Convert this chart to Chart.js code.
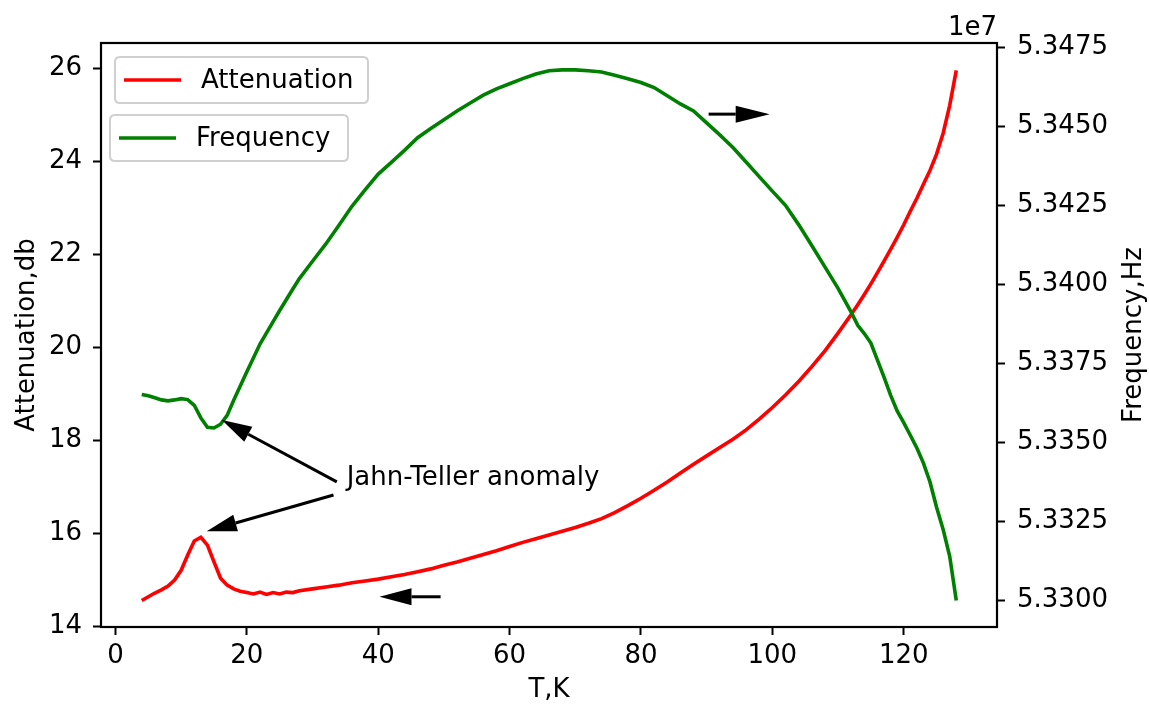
<!doctype html>
<html lang="en">
<head>
<meta charset="utf-8">
<title>Attenuation and frequency vs T</title>
<style>
  html, body { margin: 0; padding: 0; background: #fff; }
  canvas { display: block; }
</style>
</head>
<body>
<canvas id="myChart" width="1149" height="706"></canvas>
<script src="https://cdn.jsdelivr.net/npm/chart.js@4.4.1/dist/chart.umd.min.js"></script>
<script>
// temperature points, K
var temps = [4,5,6,7,8,9,10,11,12,13,14,15,16,17,18,19,20,21,22,23,24,25,26,27,28,30,32,34,36,38,40,42,44,46,48,50,52,54,56,58,60,62,64,66,68,70,72,74,76,78,80,82,84,86,88,90,92,94,96,98,100,102,104,106,108,110,112,113,114,115,116,117,118,119,120,121,122,123,124,125,126,127,128];

// attenuation, db (left axis)
var attenuation = [14.55,14.63,14.71,14.78,14.86,14.99,15.20,15.53,15.83,15.91,15.74,15.38,15.03,14.88,14.80,14.75,14.72,14.69,14.73,14.68,14.72,14.69,14.73,14.72,14.76,14.80,14.84,14.88,14.93,14.97,15.01,15.06,15.11,15.17,15.23,15.31,15.38,15.46,15.54,15.62,15.71,15.80,15.88,15.96,16.04,16.12,16.21,16.31,16.44,16.59,16.75,16.92,17.10,17.29,17.48,17.66,17.84,18.02,18.22,18.45,18.70,18.97,19.26,19.58,19.92,20.30,20.70,20.91,21.13,21.36,21.60,21.85,22.10,22.36,22.63,22.92,23.20,23.50,23.80,24.15,24.60,25.20,25.95];

// frequency, Hz (right axis)
var frequency = [53365200,53364800,53364200,53363500,53363200,53363500,53363900,53363600,53361800,53357800,53354800,53354600,53355800,53358600,53363400,53367900,53372400,53376800,53381200,53384700,53388300,53391800,53395200,53398600,53401900,53407400,53412800,53418700,53424800,53430000,53435000,53438700,53442500,53446500,53449400,53452200,53455000,53457500,53460000,53462000,53463600,53465200,53466700,53467700,53468000,53468000,53467700,53467300,53466300,53465200,53464000,53462400,53459800,53457200,53455000,53451200,53447400,53443400,53438800,53434200,53429600,53425100,53419000,53412400,53405600,53398800,53391300,53387100,53384500,53381500,53376100,53370700,53365000,53360000,53356300,53352300,53348300,53343500,53337500,53329500,53322500,53314000,53300000];

var xTicks = [0,20,40,60,80,100,120];
var leftTicks = [14,16,18,20,22,24,26];
var rightTicks = [53300000,53325000,53350000,53375000,53400000,53425000,53450000,53475000];

// annotations in (T, attenuation) coordinates
var jtText = {text: 'Jahn-Teller anomaly', at: [35.2, 17.03]};
var arrows = [
  {from: [33.7, 17.10], to: [16.2, 18.43], head: 30},
  {from: [33.2, 16.82], to: [13.9, 16.04], head: 30},
  {from: [90.3, 25.01], to: [99.6, 25.01], head: 34},
  {from: [49.5, 14.63], to: [40.2, 14.63], head: 32}
];

var FONT = 'DejaVu Sans';
var tickFont = {family: FONT, size: 26};

function pts(ys) {
  return temps.map(function (t, i) { return {x: t, y: ys[i]}; });
}

function drawArrow(ctx, x0, y0, x1, y1, headLen) {
  var dx = x1 - x0, dy = y1 - y0;
  var len = Math.sqrt(dx * dx + dy * dy);
  var ux = dx / len, uy = dy / len;
  var bx = x1 - ux * headLen, by = y1 - uy * headLen;
  var hw = 8.5;
  ctx.beginPath();
  ctx.moveTo(x0, y0);
  ctx.lineTo(bx, by);
  ctx.lineWidth = 3;
  ctx.strokeStyle = '#000';
  ctx.stroke();
  ctx.beginPath();
  ctx.moveTo(x1, y1);
  ctx.lineTo(bx - uy * hw, by + ux * hw);
  ctx.lineTo(bx + uy * hw, by - ux * hw);
  ctx.closePath();
  ctx.fillStyle = '#000';
  ctx.fill();
}

function roundRect(ctx, x, y, w, h, r) {
  ctx.beginPath();
  ctx.moveTo(x + r, y);
  ctx.lineTo(x + w - r, y);
  ctx.quadraticCurveTo(x + w, y, x + w, y + r);
  ctx.lineTo(x + w, y + h - r);
  ctx.quadraticCurveTo(x + w, y + h, x + w - r, y + h);
  ctx.lineTo(x + r, y + h);
  ctx.quadraticCurveTo(x, y + h, x, y + h - r);
  ctx.lineTo(x, y + r);
  ctx.quadraticCurveTo(x, y, x + r, y);
  ctx.closePath();
}

var extras = {
  id: 'extras',
  afterDatasetsDraw: function (chart) {
    var ctx = chart.ctx, a = chart.chartArea;
    var sx = chart.scales.x, sy = chart.scales.y;
    ctx.save();
    // frame
    ctx.strokeStyle = '#000';
    ctx.lineWidth = 2.2;
    ctx.strokeRect(a.left, a.top, a.right - a.left, a.bottom - a.top);

    // arrows and annotation text
    arrows.forEach(function (ar) {
      drawArrow(ctx, sx.getPixelForValue(ar.from[0]), sy.getPixelForValue(ar.from[1]),
        sx.getPixelForValue(ar.to[0]), sy.getPixelForValue(ar.to[1]), ar.head);
    });
    ctx.fillStyle = '#000';
    ctx.font = '26px "' + FONT + '"';
    ctx.textAlign = 'left';
    ctx.textBaseline = 'alphabetic';
    ctx.fillText(jtText.text, sx.getPixelForValue(jtText.at[0]), sy.getPixelForValue(jtText.at[1]));

    // legends (two separate boxes)
    var legends = [
      {label: 'Attenuation', color: 'red', box: [115, 57, 253, 46]},
      {label: 'Frequency', color: 'green', box: [110, 115, 238, 46]}
    ];
    legends.forEach(function (lg) {
      var b = lg.box;
      roundRect(ctx, b[0], b[1], b[2], b[3], 5);
      ctx.fillStyle = 'rgba(255,255,255,0.8)';
      ctx.fill();
      ctx.strokeStyle = '#d0d0d0';
      ctx.lineWidth = 2;
      ctx.stroke();
      var my = b[1] + b[3] / 2;
      ctx.beginPath();
      ctx.moveTo(b[0] + 9, my);
      ctx.lineTo(b[0] + 66, my);
      ctx.strokeStyle = lg.color;
      ctx.lineWidth = 3.6;
      ctx.stroke();
      ctx.fillStyle = '#000';
      ctx.textBaseline = 'middle';
      ctx.fillText(lg.label, b[0] + 86, my + 1);
    });

    // right axis label and offset text
    ctx.save();
    ctx.translate(1134, (a.top + a.bottom) / 2);
    ctx.rotate(-Math.PI / 2);
    ctx.textAlign = 'center';
    ctx.textBaseline = 'middle';
    ctx.fillText('Frequency,Hz', 0, 0);
    ctx.restore();
    ctx.textAlign = 'right';
    ctx.textBaseline = 'alphabetic';
    ctx.fillText('1e7', a.right, 35);
    ctx.restore();
  }
};

var tickGrid = {drawOnChartArea: false, drawTicks: true, tickLength: 8, tickColor: '#000', tickWidth: 2};

var ctx = document.getElementById('myChart').getContext('2d');
var chart = new Chart(ctx, {
  type: 'line',
  data: {
    datasets: [
      {label: 'Frequency', data: pts(frequency), yAxisID: 'y2', borderColor: 'green', backgroundColor: 'green',
        borderWidth: 3.6, pointRadius: 0, tension: 0, fill: false},
      {label: 'Attenuation', data: pts(attenuation), yAxisID: 'y', borderColor: 'red', backgroundColor: 'red',
        borderWidth: 3.6, pointRadius: 0, tension: 0, fill: false}
    ]
  },
  options: {
    responsive: false,
    animation: false,
    layout: {padding: {top: 43, left: 0, right: 0, bottom: 0}},
    plugins: {legend: {display: false}, tooltip: {enabled: false}},
    scales: {
      x: {
        type: 'linear', position: 'bottom', min: -2.2, max: 134.2,
        grid: tickGrid, border: {display: false},
        afterBuildTicks: function (s) { s.ticks = xTicks.map(function (v) { return {value: v}; }); },
        afterFit: function (s) { s.height = 79; },
        ticks: {color: '#000', font: tickFont, padding: 6, maxRotation: 0},
        title: {display: true, text: 'T,K', color: '#000', font: tickFont, padding: {top: 0, bottom: 0}}
      },
      y: {
        type: 'linear', position: 'left', min: 13.98, max: 26.54,
        grid: tickGrid, border: {display: false},
        afterBuildTicks: function (s) { s.ticks = leftTicks.map(function (v) { return {value: v}; }); },
        afterFit: function (s) { s.width = 101; },
        ticks: {color: '#000', font: tickFont, padding: 11},
        title: {display: true, text: 'Attenuation,db', color: '#000', font: tickFont, padding: {top: 12, bottom: 0}}
      },
      y2: {
        type: 'linear', position: 'right', min: 53291600, max: 53476500,
        grid: tickGrid, border: {display: false},
        afterBuildTicks: function (s) { s.ticks = rightTicks.map(function (v) { return {value: v}; }); },
        afterFit: function (s) { s.width = 152; },
        ticks: {color: '#000', font: tickFont, padding: 12,
          callback: function (v) { return (v / 1e7).toFixed(4); }}
      }
    }
  },
  plugins: [extras]
});
</script>
</body>
</html>
